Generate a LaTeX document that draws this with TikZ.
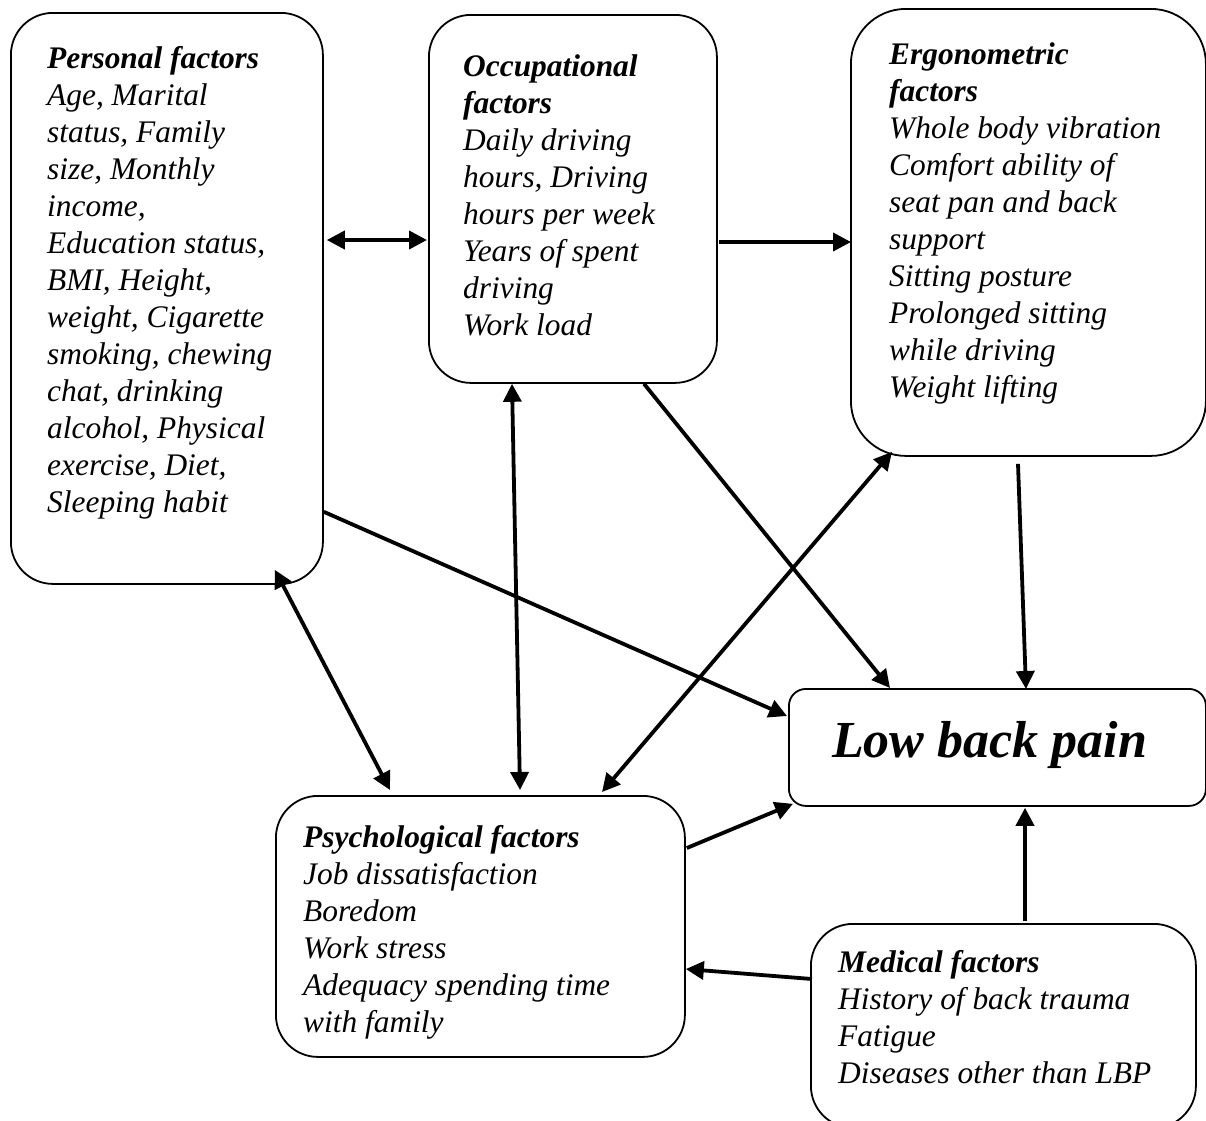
\documentclass[tikz,border=0pt]{standalone}
\usepackage{fontspec}
\setmainfont{Liberation Serif}
\usetikzlibrary{calc,arrows.meta}
\tikzset{
  box/.style={draw, line width=1.8pt, anchor=north west, inner sep=0pt},
  txt/.style={anchor=base west, align=left, inner sep=0pt,
    font=\fontsize{31.4}{37}\selectfont\itshape},
  link/.style={line width=3.8pt, -{Triangle[length=18pt,width=18pt]}},
  both/.style={line width=3.8pt, {Triangle[length=18pt,width=18pt]}-{Triangle[length=18pt,width=18pt]}}
}
\begin{document}
\begin{tikzpicture}[x=1pt,y=-1pt]
\useasboundingbox (0,0) rectangle (1206,1120);
\clip (0,0) rectangle (1206,1120);
% boxes
\node[box, rounded corners=42pt, minimum width=312pt, minimum height=571pt] (pers) at (10,12) {};
\node[box, rounded corners=42pt, minimum width=288pt, minimum height=368pt] (occ) at (428,14) {};
\node[box, rounded corners=55pt, minimum width=355pt, minimum height=447pt] (erg) at (850,8) {};
\node[box, rounded corners=17pt, minimum width=417pt, minimum height=117pt] (lbp) at (788,688) {};
\node[box, rounded corners=42pt, minimum width=409pt, minimum height=261pt] (psy) at (275,795) {};
\node[box, rounded corners=42pt, minimum width=385pt, minimum height=204pt] (med) at (810,923) {};
% texts (anchored at the baseline of their last line)
\node[txt] (perst) at (47,512) {\textbf{Personal factors}\\Age, Marital\\status, Family\\size, Monthly\\income,\\Education status,\\BMI, Height,\\weight, Cigarette\\smoking, chewing\\chat, drinking\\alcohol, Physical\\exercise, Diet,\\Sleeping habit};
\node[txt] (occt) at (463,335) {\textbf{Occupational}\\\textbf{factors}\\Daily driving\\hours, Driving\\hours per week\\Years of spent\\driving\\Work load};
\node[txt] (ergt) at (889,397) {\textbf{Ergonometric}\\\textbf{factors}\\Whole body vibration\\Comfort ability of\\seat pan and back\\support\\Sitting posture\\Prolonged sitting\\while driving\\Weight lifting};
\node[txt] (psyt) at (303,1032) {\textbf{Psychological factors}\\Job dissatisfaction\\Boredom\\Work stress\\Adequacy spending time\\with family};
\node[txt] (medt) at (838,1083) {\textbf{Medical factors}\\History of back trauma\\Fatigue\\Diseases other than LBP};
\node[anchor=base west, inner sep=0pt, font=\fontsize{52}{60}\selectfont\bfseries\itshape] (lbpt) at (832,757) {Low back pain};
% connectors
\draw[both] ($(pers.north east)+(3,228)$) -- ($(occ.north west)+(-1,226)$);
\draw[link] ($(occ.north east)+(1,228)$) -- ($(erg.north west)+(1,234)$);
\draw[both] ($(occ.south west)+(84,0)$) -- ($(psy.north west)+(245,-5)$);
\draw[link] ($(occ.south west)+(216,0)$) -- ($(lbp.north west)+(102,0)$);
\draw[link] ($(pers.south east)+(0,-73)$) -- ($(lbp.north west)+(-1,28)$);
\draw[link] ($(erg.south west)+(168,7)$) -- ($(lbp.north west)+(238,1)$);
\draw[both] ($(pers.south east)+(-49,-15)$) -- ($(psy.north west)+(115,-5)$);
\draw[both] ($(erg.south west)+(42,-5)$) -- ($(psy.north west)+(327,-3)$);
\draw[link] ($(psy.north east)+(1,53)$) -- ($(lbp.south west)+(5,-3)$);
\draw[link] ($(med.north west)+(215,-2)$) -- ($(lbp.south west)+(237,1)$);
\draw[link] ($(med.north west)+(2,56)$) -- ($(psy.north east)+(0,174)$);
\end{tikzpicture}
\end{document}
